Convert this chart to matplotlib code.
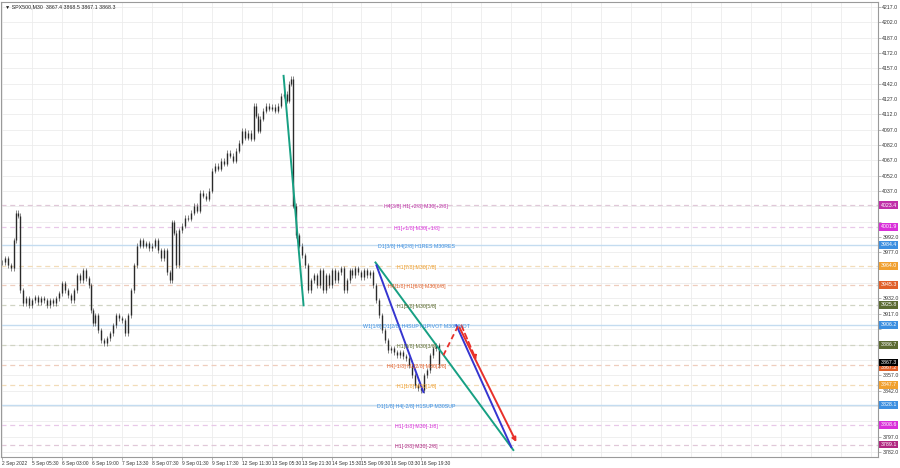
import matplotlib.pyplot as plt
import numpy as np
from matplotlib.transforms import blended_transform_factory

# bar number (M30 bars from the left edge) and close price
bars = [0, 3, 6, 9, 12, 14, 16, 18, 21, 24, 27, 30, 33, 36, 39, 42, 45, 48, 51, 54,
        57, 60, 63, 66, 69, 72, 75, 78, 81, 84, 87, 89, 91, 93, 96, 99, 102, 105, 108, 111,
        114, 117, 120, 123, 126, 129, 132, 135, 138, 141, 144, 147, 150, 153, 156, 159, 162, 165, 168, 170,
        172, 174, 177, 180, 183, 186, 189, 192, 195, 198, 201, 204, 207, 210, 213, 216, 219, 222, 225, 228,
        231, 234, 237, 240, 243, 246, 249, 252, 254, 256, 258, 261, 264, 267, 270, 273, 276, 279, 282, 285,
        287, 289, 291, 294, 297, 300, 303, 306, 309, 312, 315, 318, 321, 324, 327, 330, 333, 336, 339, 342,
        345, 348, 351, 354, 357, 360, 363, 366, 369, 372, 375, 378, 381, 384, 387, 390, 393, 396, 399, 402,
        405, 408, 411, 414, 417, 420, 423, 426, 429, 432, 435, 438]
closes = [3967.2, 3971.1, 3964.3, 3961.4, 3988.7, 4016.0, 4013.1, 3939.9, 3927.2, 3932.1,
          3925.3, 3930.2, 3933.1, 3928.2, 3932.1, 3930.2, 3925.3, 3930.2, 3927.2, 3932.1,
          3937.0, 3946.8, 3939.9, 3935.1, 3930.2, 3939.9, 3954.5, 3949.7, 3959.4, 3951.6,
          3944.8, 3920.4, 3907.7, 3915.5, 3900.9, 3891.1, 3888.2, 3893.1, 3898.0, 3905.8,
          3915.5, 3912.6, 3910.6, 3898.0, 3915.5, 3939.9, 3964.3, 3983.8, 3988.7, 3983.8,
          3985.8, 3980.9, 3983.8, 3988.7, 3979.0, 3971.1, 3979.0, 3957.5, 3949.7, 4006.3,
          3996.5, 3964.3, 3998.5, 4003.3, 4011.1, 4010.2, 4016.0, 4022.8, 4018.0, 4035.5,
          4032.6, 4029.7, 4037.5, 4057.0, 4061.9, 4058.9, 4066.8, 4063.8, 4074.6, 4071.6,
          4066.8, 4076.5, 4084.3, 4096.0, 4089.2, 4094.1, 4088.2, 4120.4, 4110.6, 4096.0,
          4107.7, 4115.5, 4120.4, 4117.5, 4119.4, 4115.5, 4120.4, 4130.2, 4132.1, 4125.3,
          4141.9, 4146.7, 4022.8, 3993.6, 3983.8, 3974.1, 3964.3, 3939.9, 3949.7, 3954.5,
          3944.8, 3959.4, 3939.9, 3954.5, 3944.8, 3959.4, 3949.7, 3957.5, 3961.4, 3939.9,
          3949.7, 3959.4, 3954.5, 3961.4, 3957.5, 3952.6, 3959.4, 3954.5, 3957.5, 3944.8,
          3930.2, 3915.5, 3900.9, 3891.1, 3881.4, 3883.3, 3879.4, 3876.5, 3879.4, 3875.5,
          3873.6, 3866.7, 3857.0, 3847.2, 3844.3, 3842.4, 3857.0, 3861.9, 3876.5, 3883.3,
          3886.3, 3867.0]

tick_bars = [0, 30, 60, 90, 120, 150, 180, 210, 240, 270, 300, 330, 360, 390, 420]
tick_labels = ['2 Sep 2022', '5 Sep 05:30', '6 Sep 03:00', '6 Sep 19:00', '7 Sep 13:30',
               '8 Sep 07:30', '9 Sep 01:30', '9 Sep 17:30', '12 Sep 11:30', '13 Sep 05:30',
               '13 Sep 21:30', '14 Sep 15:30', '15 Sep 09:30', '16 Sep 03:30', '16 Sep 19:30']

# Murrey math levels
level_prices = [4023.4, 4001.9, 3984.4, 3964.0, 3945.3, 3925.8, 3906.2,
                3886.7, 3867.2, 3847.7, 3828.1, 3808.6, 3789.1]
level_names = ['H4[3/8] H1[+2/8] M30[+2/8]', 'H1[+1/8] M30[+1/8]',
               'D1[3/8] H4[2/8] H1RES M30RES', 'H1[7/8] M30[7/8]',
               'H4[1/8] H1[6/8] M30[6/8]', 'H1[5/8] M30[5/8]',
               'W1[1/8] D1[2/8] H4SUP H1PIVOT M30PIVOT', 'H1[3/8] M30[3/8]',
               'H4[-1/8] H1[2/8] M30[2/8]', 'H1[1/8] M30[1/8]',
               'D1[1/8] H4[-2/8] H1SUP M30SUP', 'H1[-1/8] M30[-1/8]', 'H1[-2/8] M30[-2/8]']
level_colors = ['#c02fa8', '#d930d9', '#3d8fe0', '#f0a030', '#e0602a', '#5c6b32', '#3d8fe0',
                '#5c6b32', '#e0602a', '#f0a030', '#3d8fe0', '#d930d9', '#b02880']
level_solid = [False, False, True, False, False, False, True,
               False, False, False, True, False, False]
line_colors = ['#e0c8d8', '#e8c8e8', '#c4dcf0', '#f2dcb8', '#efcdbd', '#d0d4c4', '#c4dcf0',
               '#d0d4c4', '#efcdbd', '#f2dcb8', '#c4dcf0', '#e8c8e8', '#e0c8d8']
last_price = 3867.3

# trend lines: (bar, price) pairs
green_lines = [[(282, 4149.7), (302, 3925.3)], [(374, 3967.2), (512, 3783.8)]]
blue_lines = [[(375, 3964.3), (422, 3840.4)], [(455, 3905.8), (510, 3786.7)]]
red_dash_up = [(442, 3876.5), (457, 3905.8)]
red_dash_down = [(460, 3905.8), (475, 3871.6)]
red_solid = [(458, 3903.8), (515, 3791.6)]

plt.rcParams['font.family'] = ['Liberation Sans', 'DejaVu Sans']
fig = plt.figure(figsize=(9, 4.68), dpi=100)
ax = fig.add_axes([0.001, 11 / 468, 877 / 900, 455 / 468])
ax.set_xlim(-1, 877)
ax.set_ylim(3777.0, 4221.9)

# grid
yt = np.arange(3782, 4218, 15)
for y in yt:
    ax.axhline(y, color='#ececec', lw=0.6, zorder=0)
for xb in range(0, 877, 30):
    ax.axvline(xb, color='#ececec', lw=0.6, zorder=0)

# levels
for p, name, c, lc, solid in zip(level_prices, level_names, level_colors, line_colors, level_solid):
    ax.axhline(p, color=lc, lw=1.0 if solid else 0.9,
               ls='-' if solid else (0, (4, 3)), zorder=1)
    ax.text(415, p - 1.5, name, color=c, fontsize=3.8, ha='center', va='center', zorder=6)

# candles (open = previous close)
opens = [closes[0]] + closes[:-1]
lo = np.minimum(opens, closes)
hi = np.maximum(opens, closes)
ax.vlines(bars, lo - 2.5, hi + 2.5, color='#555555', lw=0.5, zorder=3)
ax.vlines(bars, lo, hi, color='#2a2a2a', lw=1.0, zorder=3)

# trend lines
for (x0, y0), (x1, y1) in green_lines:
    ax.plot([x0, x1], [y0, y1], color='#17a083', lw=1.4, zorder=4)
for (x0, y0), (x1, y1) in blue_lines:
    ax.plot([x0, x1], [y0, y1], color='#3535d0', lw=1.4, zorder=4)
ax.plot([red_dash_up[0][0], red_dash_up[1][0]], [red_dash_up[0][1], red_dash_up[1][1]],
        color='#e8302a', lw=1.3, ls=(0, (3, 2)), zorder=4)
ax.annotate('', xy=red_dash_down[1], xytext=red_dash_down[0],
            arrowprops=dict(arrowstyle='-|>', color='#e8302a', lw=1.3, ls=(0, (3, 2)),
                            mutation_scale=6, shrinkA=0, shrinkB=0), zorder=4)
ax.annotate('', xy=red_solid[1], xytext=red_solid[0],
            arrowprops=dict(arrowstyle='-|>', color='#e8302a', lw=1.4,
                            mutation_scale=6, shrinkA=0, shrinkB=0), zorder=4)

# axes / ticks
for s in ax.spines.values():
    s.set_color('#9a9a9a')
    s.set_linewidth(0.8)
ax.yaxis.tick_right()
ax.set_yticks(yt)
tag_prices = level_prices + [last_price]
ylabs = []
for v in yt:
    # labels hidden behind a price tag are left blank
    if min(abs(v - t) for t in tag_prices) < 5.5:
        ylabs.append('')
    else:
        ylabs.append('%.1f' % v)
ax.set_yticklabels(ylabs)
ax.set_xticks(tick_bars)
ax.set_xticklabels(tick_labels, ha='left')
ax.tick_params(axis='y', labelsize=3.8, length=2, width=0.5, colors='#9a9a9a',
               labelcolor='#333333', pad=1.2)
ax.tick_params(axis='x', labelsize=3.5, length=2, width=0.5, colors='#9a9a9a',
               labelcolor='#333333', pad=1.2)

# price tags on the right scale
tr = blended_transform_factory(ax.transAxes, ax.transData)
for p, c in zip(level_prices, level_colors):
    if p == 3867.2:
        p_txt = p - 2.2
    else:
        p_txt = p
    ax.text(1.003, p_txt, '%.1f' % p, transform=tr, fontsize=3.8, color='white', ha='left',
            va='center', clip_on=False, zorder=7,
            bbox=dict(boxstyle='square,pad=0.25', fc=c, ec='none'))
ax.text(1.003, last_price + 2.2, '%.1f' % last_price, transform=tr, fontsize=3.8, color='white',
        ha='left', va='center', clip_on=False, zorder=8,
        bbox=dict(boxstyle='square,pad=0.25', fc='black', ec='none'))

ax.text(3, 4217.5, '\u25bc SPX500,M30  3867.4 3868.5 3867.1 3868.3', fontsize=3.8,
        color='#222222', ha='left', va='center')

fig.savefig('out.png', dpi=100)
